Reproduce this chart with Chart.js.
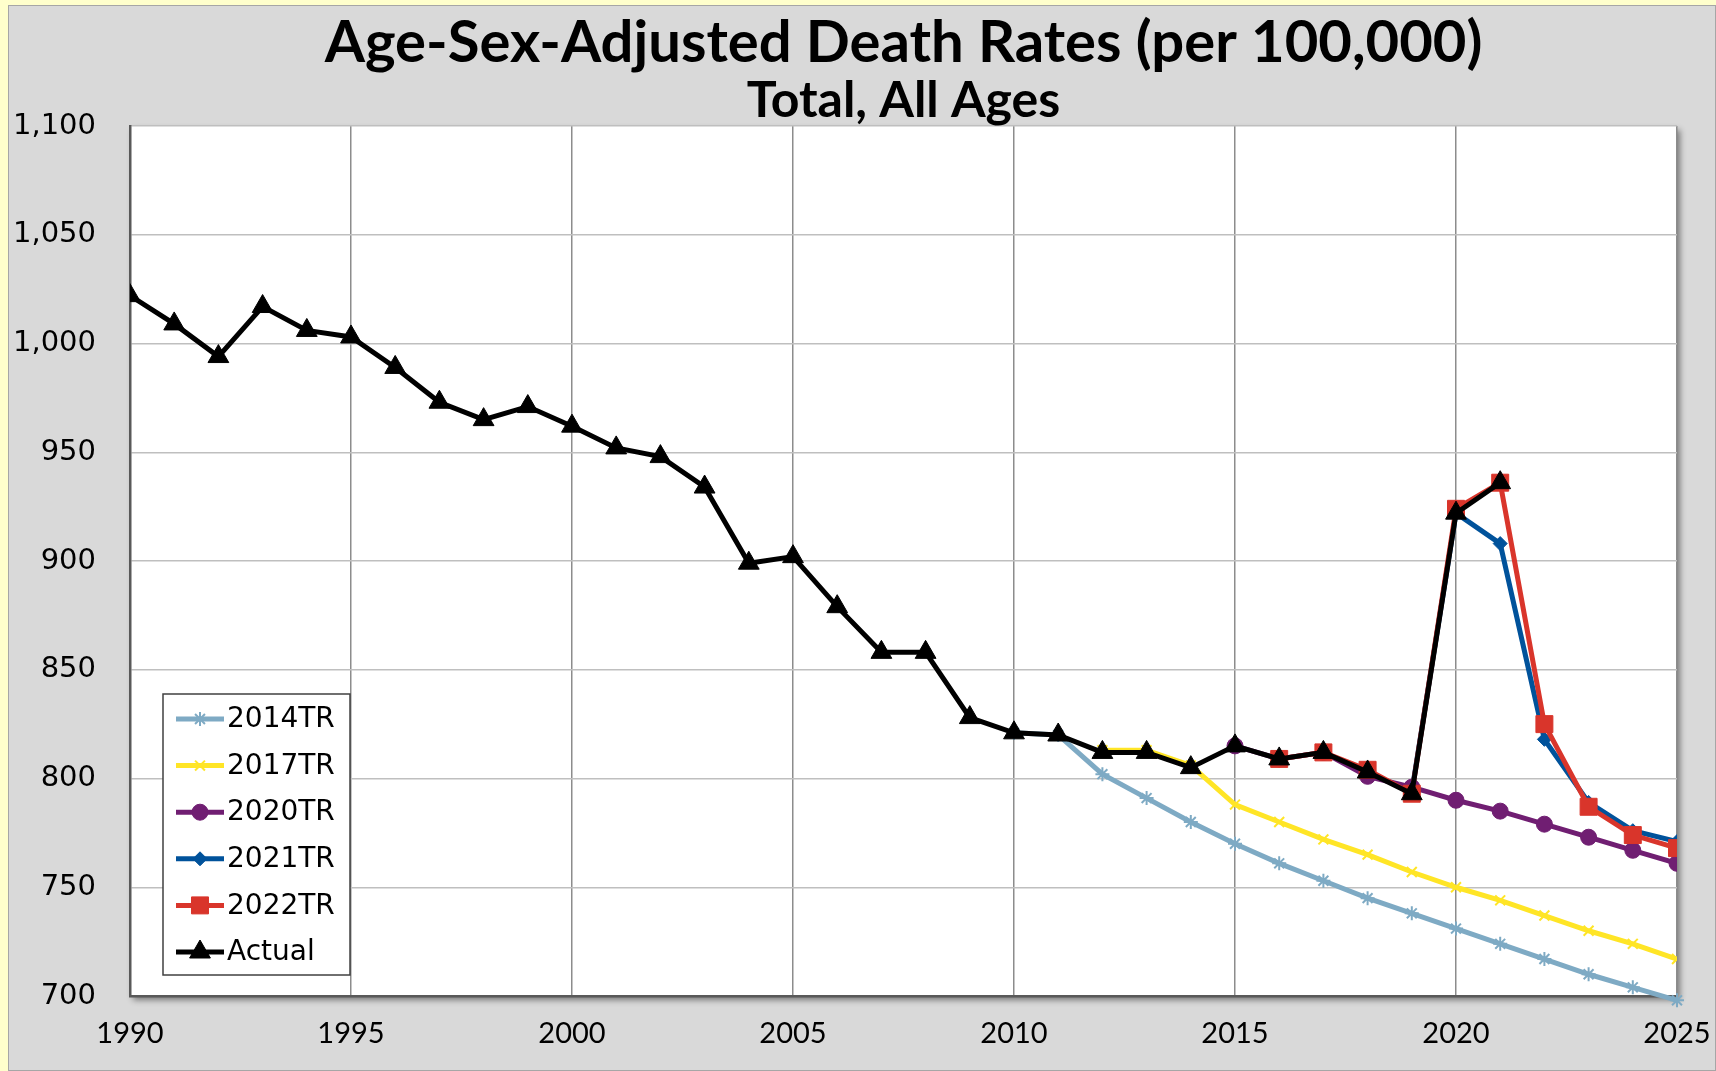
<!DOCTYPE html>
<html>
<head>
<meta charset="utf-8">
<title>Age-Sex-Adjusted Death Rates</title>
<script src="https://cdn.jsdelivr.net/npm/chart.js@4.4.1/dist/chart.umd.min.js"></script>
<style>
    html, body { margin: 0; padding: 0; background: #ffffcc; }
    #wrap { width: 1716px; height: 1071px; }
</style>
</head>
<body>
<div id="wrap"><canvas id="deathChart" width="1716" height="1071"></canvas></div>
<script>
// Values (deaths per 100,000), each series with its first year
const actualStart = 1990;
const actual = [1022, 1009, 994, 1017, 1006, 1003, 989, 973, 965, 971,
                962, 952, 948, 934, 899, 902, 879, 858, 858, 828,
                821, 820, 812, 812, 805, 815, 809, 812, 803, 793,
                922, 936];

const tr2014Start = 2010;
const tr2014 = [821, 820, 802, 791, 780, 770, 761, 753, 745, 738, 731, 724, 717, 710, 704, 698];

const tr2017Start = 2012;
const tr2017 = [813, 813, 806, 788, 780, 772, 765, 757, 750, 744, 737, 730, 724, 717];

const tr2020Start = 2015;
const tr2020 = [815, 809, 812, 801, 796, 790, 785, 779, 773, 767, 761];

const tr2021Start = 2019;
const tr2021 = [794, 922, 908, 818, 789, 776, 771];

const tr2022Start = 2016;
const tr2022 = [809, 812, 804, 793, 924, 936, 825, 787, 774, 768];

// Axis ticks
const yearTicks = [1990, 1995, 2000, 2005, 2010, 2015, 2020, 2025];
const rateTicks = [700, 750, 800, 850, 900, 950, 1000, 1050, 1100];

function toPoints(start, values) {
    return values.map((v, i) => ({ x: start + i, y: v }));
}

// Series styles (also used by the boxed legend)
const series = [
    { label: '2014TR', start: tr2014Start, values: tr2014, color: '#7eaac4', style: 'star', radius: 7, order: 5 },
    { label: '2017TR', start: tr2017Start, values: tr2017, color: '#ffe526', style: 'crossRot', radius: 7, order: 4 },
    { label: '2020TR', start: tr2020Start, values: tr2020, color: '#701e72', style: 'circle', radius: 8, order: 3 },
    { label: '2021TR', start: tr2021Start, values: tr2021, color: '#00529b', style: 'rectRot', radius: 7, order: 2 },
    { label: '2022TR', start: tr2022Start, values: tr2022, color: '#d9352b', style: 'rect', radius: 12, order: 1 },
    { label: 'Actual', start: actualStart, values: actual, color: '#000000', style: 'triangle', radius: 12, order: 0 }
];

const thinMarker = s => s.style === 'star' || s.style === 'crossRot';

const datasets = series.map(s => ({
    label: s.label,
    data: toPoints(s.start, s.values),
    borderColor: s.color,
    backgroundColor: s.color,
    borderWidth: 5,
    pointStyle: s.style,
    pointRadius: s.radius,
    pointHoverRadius: s.radius,
    pointBorderWidth: thinMarker(s) ? 2 : 1,
    pointBorderColor: s.color,
    pointBackgroundColor: s.color,
    tension: 0,
    fill: false,
    order: s.order,
    clip: s.label === '2014TR' ? false : undefined
}));

// grey panel, yellow frame and shadowed white plot area
const backdrop = {
    id: 'backdrop',
    beforeDraw(chart) {
        const { ctx, chartArea: a } = chart;
        ctx.save();
        ctx.fillStyle = '#ffffcc';
        ctx.fillRect(0, 0, chart.width, chart.height);
        ctx.fillStyle = '#d9d9d9';
        ctx.fillRect(8, 5, chart.width - 8, chart.height - 5);
        ctx.strokeStyle = '#a6a6a6';
        ctx.lineWidth = 1;
        ctx.strokeRect(8.5, 5.5, chart.width - 9, chart.height - 6);
        ctx.shadowColor = 'rgba(0,0,0,0.45)';
        ctx.shadowBlur = 6;
        ctx.shadowOffsetX = 3;
        ctx.shadowOffsetY = 4;
        ctx.fillStyle = '#ffffff';
        ctx.fillRect(a.left, a.top, a.width, a.height);
        ctx.restore();
    }
};

// legend box inside the plot, lower left
const boxLegend = {
    id: 'boxLegend',
    afterDraw(chart) {
        const { ctx, chartArea: a } = chart;
        const x0 = a.left + 33, y0 = a.bottom - 302, w = 187, h = 281;
        ctx.save();
        ctx.fillStyle = '#ffffff';
        ctx.fillRect(x0, y0, w, h);
        ctx.strokeStyle = '#404040';
        ctx.lineWidth = 1.5;
        ctx.strokeRect(x0, y0, w, h);
        ctx.font = '28px "DejaVu Sans"';
        ctx.textBaseline = 'middle';
        series.forEach((s, i) => {
            const y = y0 + 25 + i * 46.6;
            ctx.strokeStyle = s.color;
            ctx.fillStyle = s.color;
            ctx.lineWidth = 5;
            ctx.beginPath();
            ctx.moveTo(x0 + 13, y);
            ctx.lineTo(x0 + 61, y);
            ctx.stroke();
            ctx.lineWidth = thinMarker(s) ? 2 : 1;
            Chart.helpers.drawPoint(ctx, { pointStyle: s.style, radius: s.radius, rotation: 0, borderWidth: ctx.lineWidth }, x0 + 37, y);
            ctx.fillStyle = '#000000';
            ctx.fillText(s.label, x0 + 64, y + 1);
        });
        ctx.restore();
    }
};

const ctx = document.getElementById('deathChart').getContext('2d');
const deathChart = new Chart(ctx, {
    type: 'line',
    data: { datasets: datasets },
    plugins: [backdrop, boxLegend],
    options: {
        responsive: false,
        animation: false,
        layout: { padding: { top: 8, right: 39, bottom: 20, left: 0 } },
        plugins: {
            legend: { display: false },
            tooltip: { enabled: false },
            title: {
                display: true,
                fullSize: false,
                text: 'Age-Sex-Adjusted Death Rates (per 100,000)',
                color: '#000000',
                font: { family: 'Lato', size: 58, weight: 'bold', lineHeight: 1 },
                padding: { top: 6, bottom: 0 }
            },
            subtitle: {
                display: true,
                fullSize: false,
                text: 'Total, All Ages',
                color: '#000000',
                font: { family: 'Lato', size: 50, weight: 'bold', lineHeight: 1 },
                padding: { top: 4, bottom: 0 }
            }
        },
        scales: {
            x: {
                type: 'linear',
                min: yearTicks[0],
                max: yearTicks[yearTicks.length - 1],
                afterBuildTicks: scale => { scale.ticks = yearTicks.map(v => ({ value: v })); },
                afterFit: scale => {
                    scale.height = 55;
                    scale.paddingLeft = 0;
                    scale.paddingRight = 0;
                },
                ticks: {
                    color: '#000000',
                    font: { family: 'Lato', size: 29 },
                    padding: 20,
                    maxRotation: 0,
                    autoSkip: false,
                    callback: v => String(v)
                },
                grid: { color: '#8c8c8c', lineWidth: 1.5, drawTicks: false },
                border: { color: '#595959', width: 2.5 }
            },
            y: {
                min: rateTicks[0],
                max: rateTicks[rateTicks.length - 1],
                afterBuildTicks: scale => { scale.ticks = rateTicks.map(v => ({ value: v })); },
                afterFit: scale => { scale.width = 130; },
                ticks: {
                    color: '#000000',
                    font: { family: 'DejaVu Sans', size: 29 },
                    padding: 34,
                    callback: v => v.toLocaleString('en-US')
                },
                grid: { color: '#bfbfbf', lineWidth: 1.5, drawTicks: false },
                border: { color: '#595959', width: 2.5 }
            }
        }
    }
});
</script>
</body>
</html>
